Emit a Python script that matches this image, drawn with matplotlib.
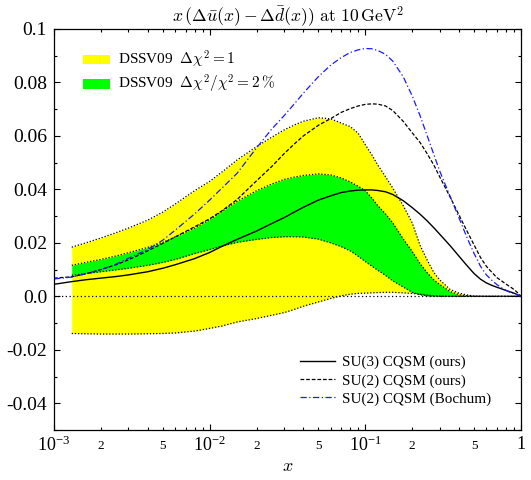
import matplotlib
matplotlib.use("Agg")
import matplotlib.pyplot as plt
from matplotlib.ticker import FixedLocator, FixedFormatter
from matplotlib.patches import Patch
from matplotlib.lines import Line2D

plt.rcParams['font.family'] = 'serif'
plt.rcParams['font.serif'] = ['Liberation Serif', 'DejaVu Serif']
plt.rcParams['mathtext.fontset'] = 'cm'
plt.rcParams['axes.unicode_minus'] = False

# DSSV09 bands
x_band = [0.0013, 0.0016, 0.002, 0.0025, 0.003, 0.004, 0.005, 0.006, 0.008, 0.01,
          0.012, 0.015, 0.02, 0.025, 0.03, 0.035, 0.04, 0.05, 0.06, 0.07,
          0.08, 0.09, 0.1, 0.11, 0.12, 0.135, 0.15, 0.175, 0.2, 0.225,
          0.25, 0.275, 0.3, 0.35, 0.4, 0.45, 0.5, 0.6, 0.8, 1.0]
yellow_hi = [0.0184, 0.0200, 0.0218, 0.0238, 0.0255, 0.0285, 0.0315, 0.0345, 0.0395, 0.0430,
             0.0465, 0.0510, 0.0560, 0.0595, 0.0622, 0.0641, 0.0655, 0.0668, 0.0664, 0.0648,
             0.0635, 0.0610, 0.0567, 0.0530, 0.0492, 0.0447, 0.0405, 0.0340, 0.0275, 0.0190,
             0.0135, 0.0090, 0.0062, 0.0026, 0.0012, 0.0005, 0.0001, 0.0, 0.0, 0.0]
yellow_lo = [-0.0139, -0.0140, -0.0141, -0.0141, -0.0141, -0.0140, -0.0139, -0.0137, -0.0130, -0.0120,
             -0.0111, -0.0096, -0.0083, -0.0071, -0.0061, -0.0049, -0.0037, -0.0021, -0.0008, 0.0002,
             0.0008, 0.0011, 0.0012, 0.0013, 0.0014, 0.0015, 0.0015, 0.0013, 0.0011, 0.0008,
             0.0005, 0.0002, 0.0001, 0.0, 0.0, 0.0, 0.0, 0.0, 0.0, 0.0]
green_hi = [0.0116, 0.0127, 0.0138, 0.0151, 0.0163, 0.0183, 0.0202, 0.0222, 0.0255, 0.0287,
            0.0318, 0.0355, 0.0395, 0.0420, 0.0437, 0.0446, 0.0452, 0.0458, 0.0454, 0.0443,
            0.0428, 0.0412, 0.0395, 0.0368, 0.0340, 0.0308, 0.0275, 0.0215, 0.0168, 0.0122,
            0.0088, 0.0062, 0.0045, 0.0018, 0.0006, 0.0002, 0.0, 0.0, 0.0, 0.0]
green_lo = [0.0079, 0.0085, 0.0092, 0.0099, 0.0105, 0.0116, 0.0127, 0.0138, 0.0160, 0.0175,
            0.0188, 0.0202, 0.0213, 0.0220, 0.0223, 0.0223, 0.0222, 0.0214, 0.0200, 0.0186,
            0.0170, 0.0150, 0.0130, 0.0113, 0.0098, 0.0078, 0.0058, 0.0035, 0.0015, 0.0006,
            0.0002, 0.0, 0.0, 0.0, 0.0, 0.0, 0.0, 0.0, 0.0, 0.0]

# model curves
x_model = [0.001, 0.0013, 0.0016, 0.002, 0.0025, 0.003, 0.004, 0.005, 0.006, 0.008,
           0.01, 0.012, 0.015, 0.02, 0.025, 0.03, 0.035, 0.04, 0.05, 0.06,
           0.07, 0.08, 0.09, 0.1, 0.11, 0.12, 0.135, 0.15, 0.175, 0.2,
           0.225, 0.25, 0.275, 0.3, 0.35, 0.4, 0.45, 0.5, 0.55, 0.6,
           0.65, 0.7, 0.75, 0.8, 0.85, 0.9, 0.95, 1.0]
su3_ours = [0.0045, 0.0055, 0.0062, 0.0068, 0.0074, 0.0080, 0.0092, 0.0105, 0.0118, 0.0141,
            0.0164, 0.0187, 0.0213, 0.0244, 0.0272, 0.0294, 0.0315, 0.0333, 0.0360, 0.0376,
            0.0388, 0.0394, 0.0397, 0.0398, 0.0398, 0.0396, 0.0391, 0.0381, 0.0358, 0.0332,
            0.0307, 0.0282, 0.0257, 0.0233, 0.0190, 0.0150, 0.0115, 0.0085, 0.0064, 0.0050,
            0.0041, 0.0034, 0.0028, 0.0022, 0.0017, 0.0012, 0.0006, 0.0]
su2_ours = [0.0068, 0.0073, 0.0084, 0.0100, 0.0118, 0.0136, 0.0170, 0.0198, 0.0222, 0.0260,
            0.0290, 0.0320, 0.0362, 0.0432, 0.0485, 0.0533, 0.0570, 0.0600, 0.0640, 0.0665,
            0.0688, 0.0702, 0.0712, 0.0718, 0.0720, 0.0719, 0.0712, 0.0695, 0.0655, 0.0612,
            0.0575, 0.0533, 0.0492, 0.0448, 0.0372, 0.0304, 0.0244, 0.0192, 0.0145, 0.0112,
            0.0090, 0.0070, 0.0058, 0.0046, 0.0036, 0.0026, 0.0014, 0.0]
su2_bochum = [0.0065, 0.0072, 0.0084, 0.0100, 0.0120, 0.0142, 0.0175, 0.0210, 0.0247, 0.0308,
              0.0360, 0.0405, 0.0460, 0.0555, 0.0625, 0.0675, 0.0720, 0.0760, 0.0822, 0.0865,
              0.0893, 0.0912, 0.0922, 0.0927, 0.0926, 0.0920, 0.0905, 0.0880, 0.0822, 0.0750,
              0.0675, 0.0600, 0.0532, 0.0470, 0.0375, 0.0293, 0.0220, 0.0160, 0.0112, 0.0080,
              0.0060, 0.0044, 0.0032, 0.0023, 0.0015, 0.0010, 0.0005, 0.0]

ytick_vals = [-0.04, -0.02, 0.0, 0.02, 0.04, 0.06, 0.08, 0.1]
ytick_labels = ['-0.04', '-0.02', '0.0', '0.02', '0.04', '0.06', '0.08', '0.1']
xtick_vals = [1e-3, 1e-2, 1e-1, 1.0]
xtick_labels = [r'$\mathregular{10^{-3}}$', r'$\mathregular{10^{-2}}$', r'$\mathregular{10^{-1}}$', '1']

fig = plt.figure(figsize=(5.31, 4.8), dpi=100)
ax = fig.add_axes([0.1017, 0.1042, 0.8794, 0.8354])

ax.fill_between(x_band, yellow_lo, yellow_hi, color='#ffff00', lw=0)
ax.fill_between(x_band, green_lo, green_hi, color='#00ff00', lw=0)
for edge in (yellow_hi, yellow_lo, green_hi, green_lo):
    ax.plot(x_band, edge, color='black', lw=0.9, ls=(0, (1, 1.5)))
ax.plot([1e-3, 1.0], [0, 0], color='black', lw=0.9, ls=(0, (1, 2)))

ax.plot(x_model, su3_ours, color='black', lw=1.0)
ax.plot(x_model, su2_ours, color='black', lw=0.9, ls=(0, (3, 1.5)))
ax.plot(x_model, su2_bochum, color='#1a1aff', lw=0.9, ls=(0, (5, 2, 1, 2)))

ax.set_xscale('log')
ax.set_xlim(1e-3, 1.0)
ax.set_ylim(-0.05, 0.1)

ax.xaxis.set_major_locator(FixedLocator(xtick_vals))
ax.xaxis.set_major_formatter(FixedFormatter(xtick_labels))
minor_x = []
minor_lab = []
for dec in [1e-3, 1e-2, 1e-1]:
    for d in range(2, 10):
        minor_x.append(d * dec)
        minor_lab.append(str(d) if d in (2, 5) else '')
ax.xaxis.set_minor_locator(FixedLocator(minor_x))
ax.xaxis.set_minor_formatter(FixedFormatter(minor_lab))

ax.yaxis.set_major_locator(FixedLocator(ytick_vals))
ax.yaxis.set_major_formatter(FixedFormatter(ytick_labels))
ax.yaxis.set_minor_locator(FixedLocator([-0.05 + 0.01 * i for i in range(16)]))

ax.tick_params(which='both', direction='in', top=True, right=True, width=0.8)
ax.tick_params(which='major', length=4.5)
ax.tick_params(which='minor', length=2.5)
ax.tick_params(axis='y', which='major', labelsize=14, pad=5)
ax.tick_params(axis='x', which='major', labelsize=13, pad=4)
ax.tick_params(axis='x', which='minor', labelsize=9.5, pad=7)
for sp in ax.spines.values():
    sp.set_linewidth(0.9)

ax.set_xlabel(r'$x$', fontsize=13, labelpad=2)
ax.set_title(r'$x\,(\Delta\bar{u}(x)-\Delta\bar{d}(x))\ \mathrm{at}\ 10\,\mathrm{GeV}^2$',
             fontsize=12.7, pad=5)

band_handles = [Patch(facecolor='#ffff00', edgecolor='none'),
                Patch(facecolor='#00ff00', edgecolor='none')]
band_labels = [r'DSSV09  $\Delta\chi^2=1$', r'DSSV09  $\Delta\chi^2/\chi^2=2\,\%$']
leg1 = ax.legend(band_handles, band_labels, loc='upper left', bbox_to_anchor=(0.062, 0.95),
                 frameon=False, fontsize=11, handlelength=1.8, handleheight=0.6,
                 handletextpad=0.5, labelspacing=0.2, borderpad=0, borderaxespad=0)
ax.add_artist(leg1)

line_handles = [Line2D([], [], color='black', lw=1.0),
                Line2D([], [], color='black', lw=0.9, ls=(0, (3, 1.5))),
                Line2D([], [], color='#1a1aff', lw=0.9, ls=(0, (5, 2, 1, 2)))]
line_labels = ['SU(3) CQSM (ours)', 'SU(2) CQSM (ours)', 'SU(2) CQSM (Bochum)']
ax.legend(line_handles, line_labels, loc='lower left', bbox_to_anchor=(0.527, 0.06),
          frameon=False, fontsize=10.9, handlelength=2.3, handletextpad=0.45,
          labelspacing=0.3, borderpad=0, borderaxespad=0)

fig.savefig('out.png', dpi=100)
